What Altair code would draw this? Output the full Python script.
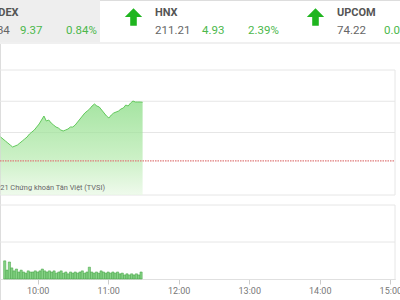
import altair as alt
import pandas as pd

# ---------------- data ----------------
names = ["VN-INDEX", "HNX", "UPCOM"]
idx_values = ["1124.34", "211.21", "74.22"]
idx_changes = ["9.37", "4.93", "0.02"]
idx_pcts = ["0.84%", "2.39%", "0.03%"]

# VN-Index intraday, every 2 minutes from 09:32 to 11:30
price = [1118.78, 1118.46, 1118.14, 1117.82, 1117.50, 1117.18, 1117.34, 1117.50, 1117.82, 1118.14,
         1118.46, 1118.78, 1119.26, 1119.58, 1119.90, 1120.38, 1120.86, 1121.50, 1122.14, 1121.34,
         1121.50, 1121.02, 1120.70, 1120.38, 1120.22, 1119.90, 1119.74, 1119.90, 1120.06, 1120.38,
         1120.38, 1120.70, 1121.18, 1121.66, 1122.14, 1122.62, 1122.94, 1123.26, 1123.74, 1124.06,
         1123.74, 1123.58, 1123.10, 1122.62, 1122.14, 1121.82, 1122.30, 1122.62, 1122.78, 1122.94,
         1123.26, 1123.42, 1123.90, 1123.74, 1124.22, 1124.54, 1124.38, 1124.38, 1124.38, 1124.34]
# matched volume, every 2 minutes from 09:32 to 11:28
volume = [4.9, 2.4, 4.6, 3.0, 2.2, 2.7, 1.9, 2.4, 1.9, 1.6,
          2.2, 1.9, 1.9, 2.2, 1.9, 2.2, 2.7, 2.2, 1.9, 2.2,
          1.9, 2.2, 1.6, 1.9, 2.2, 1.6, 1.9, 1.4, 1.9, 1.6,
          1.9, 1.6, 1.9, 2.2, 1.6, 1.9, 3.2, 1.9, 1.6, 1.9,
          1.6, 2.2, 1.9, 1.6, 1.9, 1.6, 1.9, 1.6, 1.9, 1.4,
          1.6, 1.1, 1.4, 1.1, 1.4, 1.1, 1.4, 1.1, 1.9]
reference_price = 1114.97
price_floor = 1109.5
price_grid = [1109.5, 1119.5, 1124.5, 1129.5]
volume_grid = [10, 20]
tick_hours = [10, 11, 12, 13, 14, 15]
copyright_text = "© 2021 Chứng khoán Tân Việt (TVSI)"

times = [f"{(572 + 2 * i) // 60:02d}:{(572 + 2 * i) % 60:02d}" for i in range(len(price))]


def to_hours(s):
    h, m = s.split(":")
    return int(h) + int(m) / 60


price_df = pd.DataFrame({"time": times, "price": price})
price_df["h"] = price_df["time"].map(to_hours)
vol_df = pd.DataFrame({"time": times[:len(volume)], "volume": volume})
vol_df["h"] = vol_df["time"].map(to_hours)
hdr = pd.DataFrame({"name": names, "value": idx_values, "change": idx_changes,
                    "pct": idx_pcts, "slot": list(range(len(names)))})
one = pd.DataFrame({"a": [0]})

# ---------------- scales ----------------
X_RANGE = [-37.9, 395.3]
xs = alt.Scale(domain=[9, 15], range=X_RANGE)
py = alt.Scale(domain=[1109.5, 1129.5], range=[195, 70], zero=False, nice=False)
vy = alt.Scale(domain=[0, 20], range=[279, 205], nice=False)
hx = alt.Scale(domain=[0, 2], range=[-27, 337])
hx_name = alt.Scale(type="linear", domain=[0, 1, 2], range=[-32, 155, 337])
hx_val = alt.Scale(type="linear", domain=[0, 1, 2], range=[-32, 155, 337])

GREEN = "#4cb84c"
GRID = "#e6e6e6"
ARROW = "M0,-1L1,0L0.38,0L0.38,1L-0.38,1L-0.38,0L-1,0Z"

# ---------------- header ----------------
hdr_bg = alt.Chart(one).mark_rect(color="#eeeeee").encode(
    x=alt.value(0), x2=alt.value(100), y=alt.value(0), y2=alt.value(42))
hdr_line = alt.Chart(one).mark_rule(color="#f0f0f0", strokeWidth=2).encode(
    x=alt.value(0), x2=alt.value(400), y=alt.value(43))
hbase = alt.Chart(hdr).encode(x=alt.X("slot:Q", scale=hx, axis=None))
arrows = hbase.mark_point(shape=ARROW, filled=True, size=300, color="#1fb51f",
                          opacity=1, xOffset=-21.5).encode(y=alt.value(17))
t_name = alt.Chart(hdr).mark_text(align="left", baseline="alphabetic", fontSize=11,
                                  fontWeight="bold", color="#555555").encode(
    x=alt.X("slot:Q", scale=hx_name, axis=None), y=alt.value(16), text="name:N")
t_val = alt.Chart(hdr).mark_text(align="left", baseline="alphabetic", fontSize=11.5,
                                 color="#666666").encode(
    x=alt.X("slot:Q", scale=hx_val, axis=None), y=alt.value(34), text="value:N")
t_chg = hbase.mark_text(align="left", baseline="alphabetic", fontSize=11.5,
                        color=GREEN, dx=47).encode(y=alt.value(34), text="change:N")
t_pct = hbase.mark_text(align="left", baseline="alphabetic", fontSize=11.5,
                        color=GREEN, dx=93).encode(y=alt.value(34), text="pct:N")

# ---------------- price panel ----------------
pgrid = alt.Chart(pd.DataFrame({"g": price_grid})).mark_rule(color=GRID).encode(
    y=alt.Y("g:Q", scale=py, axis=None), x=alt.value(0), x2=alt.value(395))
pright = alt.Chart(one).mark_rule(color=GRID).encode(
    x=alt.value(395), y=alt.value(70), y2=alt.value(195))
area = alt.Chart(price_df).mark_area(
    color=alt.Gradient(gradient="linear", x1=0, y1=0, x2=0, y2=1,
                       stops=[alt.GradientStop(color="#7fd97a", offset=0),
                              alt.GradientStop(color="#b5eaad", offset=0.6),
                              alt.GradientStop(color="#e8f8e4", offset=1)]),
    line=alt.OverlayMarkDef(color="#62c95c", strokeWidth=1),
    interpolate="linear").encode(
    x=alt.X("h:Q", scale=xs, axis=None),
    y=alt.Y("price:Q", scale=py, axis=None),
    y2=alt.datum(price_floor))
refline = alt.Chart(pd.DataFrame({"r": [reference_price]})).mark_rule(
    color="#e07a7a", strokeDash=[1.5, 1], strokeWidth=1.2).encode(
    y=alt.Y("r:Q", scale=py, axis=None), x=alt.value(0), x2=alt.value(395))
copy_t = alt.Chart(one).mark_text(align="right", baseline="alphabetic", fontSize=7.4,
                                  color="#666666", text=copyright_text).encode(
    x=alt.value(105), y=alt.value(190))

# ---------------- volume panel ----------------
vgrid = alt.Chart(pd.DataFrame({"g": volume_grid})).mark_rule(color=GRID).encode(
    y=alt.Y("g:Q", scale=vy, axis=None), x=alt.value(0), x2=alt.value(395))
vright = alt.Chart(one).mark_rule(color=GRID).encode(
    x=alt.value(395), y=alt.value(205), y2=alt.value(279))
bars = alt.Chart(vol_df).mark_bar(width=2.2, color="#86d486", stroke="#3f9f3f",
                                  strokeWidth=0.5).encode(
    x=alt.X("h:Q", scale=xs,
            axis=alt.Axis(values=tick_hours, labelExpr="datum.value + ':00'",
                          offset=-21, tickSize=5, tickColor="#cccccc",
                          domainColor="#e0e0e0", labelColor="#777777",
                          labelFontSize=9, labelPadding=2, grid=False,
                          title=None, labelFlush=False, labelOverlap=False)),
    y=alt.Y("volume:Q", scale=vy, axis=None))

chart = alt.layer(
    hdr_bg, hdr_line, arrows, t_name, t_val, t_chg, t_pct,
    pgrid, pright, area, refline, copy_t,
    vgrid, vright, bars,
).resolve_scale(x="independent", y="independent").properties(
    width=400, height=300, padding=0, autosize="none"
).configure_view(stroke=None).configure(font="Roboto")

chart.save("out.html", embed_options={"renderer": "svg", "actions": False})
